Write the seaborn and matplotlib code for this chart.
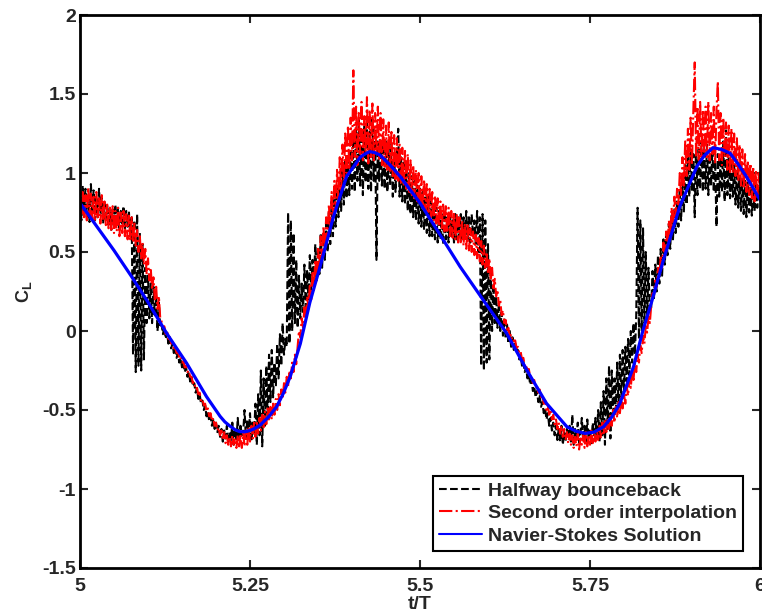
import numpy as np
import pandas as pd
import matplotlib
matplotlib.use("Agg")
import matplotlib.pyplot as plt
import seaborn as sns

# ---------------- data ----------------
# noisy series sampled on t = 5.000, 5.002, ..., 6.000 (501 points)
t_noisy = np.linspace(5.0, 6.0, 501)

halfway_bounceback = [
    0.88, 0.70, 0.92, 0.74, 0.90, 0.72, 0.86, 0.69, 0.93, 0.75, 0.89, 0.70, 0.84, 0.72, 0.90, 0.74, 0.85, 0.68, 0.82, 0.70,
    0.79, 0.66, 0.78, 0.64, 0.77, 0.70, 0.80, 0.66, 0.78, 0.65, 0.76, 0.68, 0.79, 0.64, 0.76, 0.66, 0.75, 0.60, 0.72, -0.15,
    0.70, -0.26, 0.74, -0.22, 0.62, -0.25, 0.55, -0.18, 0.40, 0.05, 0.35, 0.08, 0.30, 0.05, 0.28, 0.10, 0.22, 0.00, 0.18, 0.02,
    0.04, -0.02, 0.03, -0.05, -0.01, -0.08, -0.04, -0.11, -0.08, -0.14, -0.10, -0.17, -0.14, -0.20, -0.17, -0.23, -0.20, -0.26, -0.23, -0.29,
    -0.26, -0.32, -0.29, -0.35, -0.33, -0.39, -0.36, -0.43, -0.40, -0.46, -0.44, -0.50, -0.47, -0.54, -0.51, -0.57, -0.54, -0.60, -0.56, -0.62,
    -0.58, -0.64, -0.60, -0.67, -0.62, -0.70, -0.63, -0.68, -0.60, -0.71, -0.64, -0.69, -0.58, -0.72, -0.62, -0.70, -0.55, -0.69, -0.60, -0.66,
    -0.64, -0.50, -0.68, -0.56, -0.66, -0.52, -0.70, -0.58, -0.65, -0.46, -0.72, -0.40, -0.66, -0.25, -0.73, -0.30, -0.60, -0.22, -0.55, -0.15,
    -0.45, -0.12, -0.42, -0.20, -0.35, -0.08, -0.30, -0.02, -0.22, 0.05, -0.15, -0.05, -0.10, 0.75, -0.08, 0.70, 0.00, 0.62, 0.05, 0.45,
    0.02, 0.35, 0.08, 0.30, 0.12, 0.42, 0.15, 0.38, 0.20, 0.48, 0.25, 0.45, 0.28, 0.55, 0.32, 0.52, 0.36, 0.62, 0.40, 0.60,
    0.45, 0.68, 0.50, 0.75, 0.55, 0.82, 0.60, 0.88, 0.66, 0.92, 0.72, 0.98, 0.76, 1.04, 0.80, 1.08, 0.84, 1.12, 0.86, 1.15,
    0.90, 1.22, 0.88, 1.28, 0.95, 1.35, 0.92, 1.25, 0.86, 1.30, 0.94, 1.32, 0.90, 1.26, 0.88, 1.34, 0.95, 1.28, 0.45, 1.20,
    0.95, 1.22, 0.92, 1.18, 0.90, 1.20, 0.88, 1.15, 0.92, 1.18, 0.85, 1.12, 0.88, 1.16, 1.28, 0.85, 1.10, 0.82, 1.08, 0.80,
    1.02, 0.76, 1.00, 0.74, 0.98, 0.72, 0.95, 0.70, 0.92, 0.68, 0.90, 0.66, 0.88, 0.64, 0.86, 0.62, 0.85, 0.60, 0.82, 0.60,
    0.80, 0.58, 0.78, 0.56, 0.76, 0.58, 0.74, 0.55, 0.75, 0.58, 0.72, 0.56, 0.74, 0.60, 0.70, 0.56, 0.74, 0.58, 0.72, 0.60,
    0.74, 0.58, 0.72, 0.60, 0.76, 0.58, 0.72, 0.56, 0.74, 0.60, 0.70, 0.55, 0.76, 0.50, 0.72, -0.22, 0.74, -0.25, 0.70, -0.20,
    0.55, -0.18, 0.40, 0.00, 0.30, 0.05, 0.22, 0.02, 0.18, 0.00, 0.12, -0.03, 0.08, -0.05, 0.04, -0.08, 0.00, -0.10, -0.04, -0.12,
    -0.08, -0.14, -0.12, -0.18, -0.15, -0.22, -0.19, -0.26, -0.23, -0.30, -0.27, -0.34, -0.31, -0.38, -0.35, -0.42, -0.38, -0.45, -0.41, -0.48,
    -0.45, -0.52, -0.49, -0.56, -0.52, -0.60, -0.55, -0.63, -0.58, -0.66, -0.60, -0.69, -0.62, -0.70, -0.60, -0.72, -0.64, -0.70, -0.62, -0.68,
    -0.60, -0.70, -0.53, -0.72, -0.62, -0.68, -0.58, -0.71, -0.64, -0.55, -0.70, -0.60, -0.72, -0.56, -0.68, -0.62, -0.71, -0.58, -0.66, -0.55,
    -0.68, -0.50, -0.70, -0.45, -0.66, -0.38, -0.72, -0.30, -0.62, -0.22, -0.68, -0.25, -0.55, -0.30, -0.50, -0.20, -0.48, -0.15, -0.42, -0.12,
    -0.38, -0.10, -0.32, -0.05, -0.28, 0.00, -0.20, 0.05, -0.15, 0.10, 0.78, -0.05, 0.70, 0.00, 0.65, 0.05, 0.50, 0.08, 0.40, 0.12,
    0.15, 0.38, 0.20, 0.42, 0.25, 0.48, 0.30, 0.52, 0.35, 0.58, 0.42, 0.62, 0.48, 0.68, 0.52, 0.74, 0.58, 0.78, 0.62, 0.82,
    0.66, 0.90, 0.70, 0.98, 0.75, 1.05, 0.80, 1.10, 0.85, 1.15, 0.88, 1.12, 0.72, 1.18, 0.86, 1.15, 0.90, 1.20, 0.88, 1.16,
    0.90, 1.18, 0.86, 1.12, 0.92, 1.15, 0.88, 1.08, 0.66, 1.12, 0.85, 1.10, 0.88, 1.20, 0.82, 1.27, 0.86, 1.10, 0.84, 1.08,
    0.85, 1.05, 0.80, 1.02, 0.78, 0.98, 0.76, 0.96, 0.74, 0.95, 0.72, 0.94, 0.75, 0.92, 0.73, 0.90, 0.76, 0.92, 0.78, 0.90,
    0.82,
]

second_order = [
    0.90, 0.74, 0.88, 0.72, 0.86, 0.70, 0.91, 0.73, 0.87, 0.70, 0.85, 0.69, 0.88, 0.72, 0.84, 0.68, 0.86, 0.70, 0.82, 0.67,
    0.80, 0.65, 0.78, 0.64, 0.79, 0.62, 0.76, 0.63, 0.78, 0.60, 0.75, 0.62, 0.76, 0.60, 0.74, 0.58, 0.73, 0.58, 0.72, 0.56,
    0.68, 0.54, 0.64, 0.50, 0.60, 0.46, 0.56, 0.42, 0.52, 0.36, 0.46, 0.32, 0.40, 0.26, 0.34, 0.20, 0.28, 0.14, 0.22, 0.08,
    0.06, 0.02, 0.03, -0.02, 0.00, -0.05, -0.04, -0.08, -0.07, -0.11, -0.10, -0.14, -0.13, -0.17, -0.16, -0.20, -0.19, -0.23, -0.22, -0.26,
    -0.25, -0.29, -0.29, -0.33, -0.32, -0.37, -0.36, -0.40, -0.39, -0.44, -0.43, -0.47, -0.46, -0.51, -0.49, -0.54, -0.52, -0.57, -0.55, -0.60,
    -0.58, -0.63, -0.61, -0.66, -0.63, -0.69, -0.64, -0.71, -0.66, -0.72, -0.67, -0.73, -0.66, -0.72, -0.68, -0.74, -0.66, -0.73, -0.65, -0.74,
    -0.64, -0.73, -0.63, -0.72, -0.61, -0.70, -0.60, -0.68, -0.58, -0.67, -0.57, -0.65, -0.55, -0.63, -0.53, -0.61, -0.51, -0.59, -0.49, -0.57,
    -0.48, -0.56, -0.46, -0.53, -0.43, -0.50, -0.40, -0.47, -0.37, -0.43, -0.33, -0.39, -0.29, -0.35, -0.25, -0.30, -0.20, -0.26, -0.15, -0.21,
    -0.10, 0.00, -0.04, 0.08, 0.02, 0.15, 0.08, 0.22, 0.14, 0.30, 0.20, 0.38, 0.26, 0.45, 0.33, 0.52, 0.40, 0.60, 0.46, 0.66,
    0.52, 0.72, 0.58, 0.80, 0.64, 0.88, 0.70, 0.95, 0.76, 1.02, 0.82, 1.10, 0.88, 1.18, 0.95, 1.25, 1.00, 1.30, 1.02, 1.35,
    1.08, 1.65, 1.10, 1.42, 1.05, 1.38, 1.12, 1.45, 1.08, 1.36, 1.14, 1.48, 1.06, 1.40, 1.10, 1.44, 1.08, 1.38, 1.12, 1.42,
    1.08, 1.38, 1.05, 1.34, 1.04, 1.30, 1.02, 1.32, 1.00, 1.26, 0.98, 1.24, 0.96, 1.22, 0.95, 1.18, 0.93, 1.16, 0.92, 1.14,
    0.90, 1.12, 0.88, 1.08, 0.86, 1.05, 0.84, 1.02, 0.82, 1.00, 0.80, 0.98, 0.78, 0.96, 0.76, 0.93, 0.74, 0.90, 0.72, 0.88,
    0.70, 0.86, 0.68, 0.84, 0.66, 0.82, 0.65, 0.80, 0.63, 0.79, 0.62, 0.78, 0.60, 0.76, 0.59, 0.75, 0.58, 0.74, 0.56, 0.72,
    0.55, 0.70, 0.54, 0.68, 0.52, 0.67, 0.51, 0.65, 0.50, 0.63, 0.48, 0.61, 0.46, 0.59, 0.44, 0.57, 0.42, 0.54, 0.40, 0.50,
    0.36, 0.46, 0.32, 0.40, 0.27, 0.33, 0.22, 0.26, 0.16, 0.20, 0.10, 0.13, 0.05, 0.07, 0.00, 0.02, -0.04, -0.02, -0.07, -0.06,
    -0.06, -0.11, -0.10, -0.14, -0.13, -0.18, -0.17, -0.22, -0.21, -0.26, -0.24, -0.29, -0.28, -0.33, -0.31, -0.36, -0.34, -0.39, -0.37, -0.42,
    -0.41, -0.46, -0.44, -0.50, -0.47, -0.53, -0.50, -0.56, -0.53, -0.59, -0.56, -0.62, -0.58, -0.65, -0.60, -0.67, -0.62, -0.69, -0.64, -0.71,
    -0.65, -0.72, -0.66, -0.74, -0.67, -0.73, -0.65, -0.75, -0.68, -0.72, -0.66, -0.74, -0.64, -0.73, -0.66, -0.72, -0.63, -0.71, -0.64, -0.70,
    -0.62, -0.69, -0.60, -0.68, -0.58, -0.66, -0.57, -0.64, -0.55, -0.62, -0.53, -0.60, -0.50, -0.58, -0.48, -0.55, -0.45, -0.52, -0.42, -0.49,
    -0.40, -0.46, -0.35, -0.41, -0.30, -0.36, -0.25, -0.31, -0.20, -0.26, -0.15, -0.20, -0.09, -0.14, -0.03, -0.08, 0.03, -0.01, 0.09, 0.05,
    0.16, 0.24, 0.22, 0.32, 0.28, 0.40, 0.34, 0.48, 0.40, 0.56, 0.47, 0.63, 0.54, 0.70, 0.60, 0.78, 0.66, 0.85, 0.72, 0.90,
    0.80, 1.00, 0.86, 1.10, 0.92, 1.20, 0.98, 1.28, 1.02, 1.35, 1.05, 1.40, 1.70, 1.10, 1.42, 1.08, 1.45, 1.10, 1.40, 1.12,
    1.42, 1.10, 1.45, 1.08, 1.38, 1.12, 1.42, 1.06, 1.40, 1.58, 1.08, 1.38, 1.05, 1.35, 1.10, 1.32, 1.02, 1.30, 1.00, 1.28,
    1.00, 1.25, 0.98, 1.22, 0.95, 1.18, 0.92, 1.15, 0.90, 1.12, 0.88, 1.08, 0.86, 1.06, 0.84, 1.04, 0.82, 1.02, 0.84, 1.00,
    0.86,
]

t_ns = [5.000, 5.025, 5.050, 5.075, 5.098, 5.1275, 5.157, 5.186, 5.206, 5.213,
        5.220, 5.228, 5.235, 5.242, 5.250, 5.257, 5.265, 5.277, 5.289, 5.299,
        5.309, 5.324, 5.338, 5.353, 5.3725, 5.392, 5.412, 5.419, 5.426, 5.433,
        5.441, 5.455, 5.471, 5.500, 5.525, 5.559, 5.593, 5.6275, 5.657, 5.686,
        5.716, 5.730, 5.743, 5.756, 5.770, 5.782, 5.794, 5.814, 5.828, 5.841,
        5.858, 5.882, 5.907, 5.918, 5.931, 5.943, 5.956, 5.968, 5.980, 6.000]
navier_stokes = [0.81, 0.66, 0.51, 0.35, 0.196, -0.015, -0.205, -0.415, -0.54, -0.575,
                 -0.60, -0.625, -0.637, -0.638, -0.63, -0.617, -0.595, -0.545, -0.48, -0.395,
                 -0.29, -0.08, 0.18, 0.407, 0.72, 0.977, 1.10, 1.12, 1.135, 1.13,
                 1.114, 1.055, 0.977, 0.81, 0.64, 0.407, 0.196, -0.015, -0.247, -0.458,
                 -0.606, -0.635, -0.648, -0.64, -0.606, -0.545, -0.458, -0.226, 0.006, 0.19,
                 0.45, 0.787, 1.04, 1.11, 1.16, 1.15, 1.125, 1.055, 0.977, 0.83]

labels = ["Halfway bounceback", "Second order interpolation", "Navier-Stokes Solution"]
xticks = [5, 5.25, 5.5, 5.75, 6]
xticklabels = ["5", "5.25", "5.5", "5.75", "6"]
yticks = [-1.5, -1, -0.5, 0, 0.5, 1, 1.5, 2]
yticklabels = ["-1.5", "-1", "-0.5", "0", "0.5", "1", "1.5", "2"]

# ---------------- style ----------------
sns.set_style("ticks")
plt.rcParams["font.family"] = ["Liberation Sans", "DejaVu Sans"]
plt.rcParams["font.weight"] = "bold"
plt.rcParams["mathtext.fontset"] = "custom"
plt.rcParams["mathtext.rm"] = "Liberation Sans:bold"
plt.rcParams["mathtext.it"] = "Liberation Sans:bold"
plt.rcParams["mathtext.bf"] = "Liberation Sans:bold"

fig = plt.figure(figsize=(7.62, 6.14), dpi=100)
ax = fig.add_axes([80 / 762, 1 - 568 / 614, 680 / 762, 553 / 614])

df_hb = pd.DataFrame({"t": t_noisy, "cl": halfway_bounceback})
df_so = pd.DataFrame({"t": t_noisy, "cl": second_order})
df_ns = pd.DataFrame({"t": t_ns, "cl": navier_stokes})

sns.lineplot(data=df_hb, x="t", y="cl", ax=ax, color="black", linewidth=1.5,
             linestyle="--", estimator=None, sort=False, label=labels[0])
sns.lineplot(data=df_so, x="t", y="cl", ax=ax, color="red", linewidth=1.5,
             linestyle="-.", estimator=None, sort=False, label=labels[1])
sns.lineplot(data=df_ns, x="t", y="cl", ax=ax, color="blue", linewidth=2.3,
             linestyle="-", estimator=None, sort=False, label=labels[2])

ax.set_xlim(5, 6)
ax.set_ylim(-1.5, 2)
ax.set_xticks(xticks)
ax.set_xticklabels(xticklabels)
ax.set_yticks(yticks)
ax.set_yticklabels(yticklabels)
ax.tick_params(direction="in", length=6, width=1.5, top=True, right=True,
               labelsize=14)
ax.tick_params(axis="x", pad=7)
ax.tick_params(axis="y", pad=3)
for lab in ax.get_xticklabels() + ax.get_yticklabels():
    lab.set_fontweight("bold")
for s in ax.spines.values():
    s.set_linewidth(2.0)
    s.set_color("black")
    s.set_visible(True)

ax.set_xlabel("t/T", fontsize=14, fontweight="bold", labelpad=1)
ax.set_ylabel(r"$\mathrm{C_L}$", fontsize=13, fontweight="bold")
ax.yaxis.set_label_coords(-0.068, 0.5)

leg = ax.legend(loc="lower right", frameon=True, fancybox=False,
                edgecolor="black", handlelength=2.2, handletextpad=0.3,
                labelspacing=0.25, borderpad=0.3, borderaxespad=0.9,
                prop={"weight": "bold", "size": 14})
leg.get_frame().set_linewidth(1.5)
leg.get_frame().set_alpha(1)
for line in leg.get_lines():
    line.set_linewidth(1.5)

fig.savefig("out.png", dpi=100)
